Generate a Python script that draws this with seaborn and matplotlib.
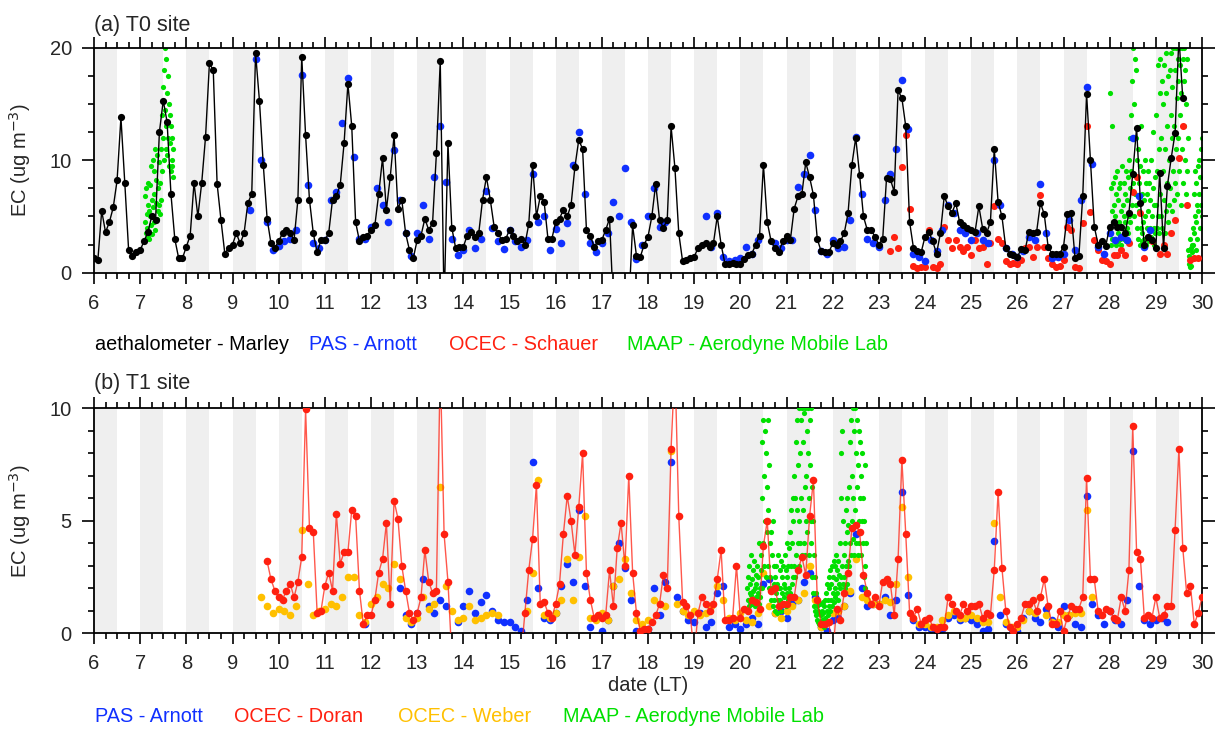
import numpy as np
import pandas as pd
import matplotlib
matplotlib.use("Agg")
import matplotlib.pyplot as plt
import seaborn as sns
from matplotlib.ticker import MultipleLocator

sns.set_theme(style="white")
plt.rcParams["font.family"] = ["Liberation Sans", "DejaVu Sans"]

nan = np.nan

# ---------------- panel (a) T0 site ----------------
# aethalometer - Marley, 2-hourly values, day 6 00h .. day 29 22h
a_aeth = [
    1.3, 1.1, 5.5, 3.6, 4.5, 5.8, 8.2, 13.8, 8.0, 2.0, 1.5, 1.8,
    2.0, 2.8, 3.6, 5.0, 4.7, 12.5, 15.3, 13.4, 7.0, 3.0, 1.3, 1.3,
    2.3, 3.3, 8.0, 5.0, 8.0, 12.1, 18.6, 18.0, 7.9, 4.7, 1.7, 2.2,
    2.5, 3.5, 2.6, 3.5, 6.2, 7.0, 19.5, 15.3, 9.6, 4.8, 2.6, 2.2,
    2.8, 3.5, 3.8, 3.5, 2.9, 6.5, 19.2, 12.2, 6.5, 3.5, 1.8, 2.9,
    2.9, 3.5, 6.5, 6.8, 7.8, 11.5, 16.8, 13.0, 4.5, 2.8, 3.2, 3.3,
    3.8, 4.2, 7.0, 10.2, 5.6, 8.5, 12.2, 5.7, 6.5, 3.5, 2.0, 1.3,
    2.9, 3.3, 4.8, 3.8, 4.4, 10.6, 18.8, -3.0, 11.5, 4.0, 2.2, 2.3,
    2.3, 3.3, 3.6, 3.2, 3.5, 6.5, 8.5, 6.5, 4.1, 3.5, 2.9, 3.0,
    3.8, 3.3, 2.8, 3.0, 2.5, 4.3, 9.6, 5.0, 6.8, 6.3, 3.0, 3.0,
    4.5, 4.8, 5.6, 5.0, 6.0, 9.4, 11.8, 11.0, 3.8, 3.3, 2.3, 2.8,
    2.9, 3.8, 4.8, -3.0, nan, nan, nan, -3.0, 4.2, 1.5, 1.4, 2.5,
    3.2, 5.0, 7.9, 4.7, 4.0, 4.7, 13.0, 9.3, 3.5, 1.0, 1.1, 1.3,
    1.4, 2.2, 2.5, 2.6, 2.3, 2.6, 5.0, 2.5, 0.8, 0.8, 0.9, 0.8,
    0.8, 1.2, 1.6, 1.7, 2.5, 3.3, 9.6, 4.5, 2.8, 2.2, 1.8, 2.8,
    3.3, 2.9, 5.7, 6.8, 7.0, 9.8, 8.5, 6.9, 3.0, 1.9, 1.8, 1.8,
    2.6, 2.5, 2.8, 3.5, 5.3, 9.6, 12.0, 8.7, 5.0, 3.8, 3.8, 3.2,
    2.5, 3.0, 8.4, 8.3, 7.2, 16.2, 15.5, 13.0, 4.5, 2.2, 1.9, 1.8,
    3.2, 3.6, 2.8, 1.7, 3.5, 6.8, 5.9, 5.3, 6.2, 4.5, 4.2, 4.0,
    3.8, 3.6, 5.9, 3.9, 3.5, 4.5, 11.0, 6.3, 5.0, 2.2, 1.7, 1.6,
    1.4, 2.1, 2.0, 3.6, 3.5, 3.6, 6.2, 5.2, 2.3, 1.7, 1.7, 1.7,
    2.3, 5.2, 5.3, 1.3, 1.5, 6.8, 15.9, 10.0, 4.1, 2.5, 2.8, 2.4,
    4.1, 4.5, 4.1, 4.1, 3.5, 5.3, 8.8, 12.9, 6.2, 2.5, 3.2, 2.9,
    2.2, 8.9, 2.2, 7.7, 10.2, 12.4, 21.0, 15.5, nan, nan, nan, nan,
]
a_aeth_start, a_aeth_perday = 6.0, 12

# PAS - Arnott, 3-hourly values, day 9 00h .. day 28 21h
a_pas = [
    nan, nan, nan, 5.6, 19.0, 10.0, 4.5, 2.0,
    2.4, 2.8, 3.0, 3.8, 17.6, 7.8, 2.6, 2.2,
    2.9, 6.5, 7.2, 13.3, 17.3, 10.3, 3.0, 3.0,
    4.1, 7.5, 6.0, 4.5, 10.9, 6.5, 3.5, 1.5,
    3.5, 6.0, 3.0, 8.5, 13.0, 8.1, 3.0, 1.6,
    2.0, 3.8, 2.2, 3.0, 7.3, 4.0, 2.8, 2.1,
    3.8, 2.8, 2.3, 2.9, 8.8, 4.5, 5.0, 2.0,
    3.9, 2.6, 4.4, 9.6, 12.5, 7.0, 2.6, 1.8,
    2.6, 3.5, 6.3, 5.0, 9.3, 4.5, 1.2, 2.5,
    5.0, 7.5, 4.1, 4.5, nan, nan, nan, nan,
    nan, nan, 5.0, 2.3, 5.3, 1.4, 1.0, 1.1,
    1.3, 2.3, 1.7, 2.9, nan, nan, 2.6, 2.2,
    2.9, 2.9, 7.6, 8.8, 10.5, 5.6, 1.9, 1.7,
    2.9, 2.2, 2.3, 4.7, 12.1, 7.0, 3.0, 2.6,
    2.3, 6.5, 8.8, 11.0, 17.1, 12.8, 1.7, 1.4,
    1.0, 2.9, 1.9, 3.8, 6.0, 5.3, 3.8, 3.5,
    2.9, 3.5, 2.9, 2.6, 10.0, 6.0, 2.2, 1.7,
    1.4, 1.9, 3.2, 2.9, 7.9, 3.5, 1.3, 1.4,
    1.7, 4.7, 2.0, 6.5, 16.5, 9.7, 2.3, 1.7,
    3.5, 2.9, 3.2, 2.9, 12.0, 6.8, 2.3, 3.8,
]
a_pas_start, a_pas_perday = 9.0, 8

# OCEC - Schauer, 2-hourly values, day 23 00h .. day 29 22h
a_ocec = [
    nan, nan, nan, 1.9, 3.2, 2.2, 9.4, 12.2, 5.7, 0.6, 0.4, 0.5,
    0.5, 3.8, 0.5, 0.4, 0.8, 4.1, 2.9, 2.2, 2.9, 2.3, 1.9, 2.3,
    1.6, 2.9, 2.2, 2.3, 0.8, 2.6, 5.9, 3.0, 2.6, 1.0, 0.8, 0.9,
    0.8, 1.1, 2.2, 2.3, 1.4, 2.3, 6.9, 2.3, 1.3, 0.8, 0.5, 0.6,
    1.1, 4.1, 3.8, 0.5, 0.4, 4.4, 13.0, 5.4, 2.9, 2.0, 1.1, 1.0,
    0.8, 1.6, 1.6, 2.0, 1.6, 2.6, 7.2, 8.5, 5.3, 1.3, 3.2, 2.8,
    nan, 1.7, 2.5, 1.7, 3.5, 4.7, 10.2, 13.0, 6.0, 1.1, 1.3, 1.3,
]
a_ocec_start, a_ocec_perday = 23.0, 12

# MAAP - Aerodyne Mobile Lab, values every 0.01 day
a_maap1_start = 7.10
a_maap1 = [
    4.5, 6.8, 3.5, 7.5, 5.2, 4.0, 8.0, 3.2, 6.0, 5.5,
    3.0, 7.8, 5.0, 9.5, 4.2, 6.5, 3.4, 10.0, 5.8, 7.0,
    4.5, 9.0, 3.8, 11.0, 6.2, 8.2, 4.8, 10.5, 5.5, 7.5,
    6.0, 9.8, 5.2, 12.5, 8.0, 11.0, 6.5, 14.0, 9.0, 16.5,
    12.0, 18.0, 10.0, 20.0, 14.5, 11.0, 19.0, 13.0, 16.0, 10.5,
    17.5, 12.0, 15.0, 9.5, 14.0, 11.5, 13.0, 9.0, 12.0, 10.0,
    9.5, 11.0, 8.5,
]
a_maap2_start = 28.00
a_maap2 = [
    16.0, 4.0, 7.5, 2.5, 13.0, 5.5, 3.0, 8.0, 4.5, 6.0,
    3.0, 8.5, 5.0, 2.5, 7.0, 4.0, 9.0, 3.5, 6.5, 2.8,
    7.5, 4.5, 3.0, 8.0, 5.5, 2.5, 9.5, 4.0, 6.0, 3.2,
    8.0, 5.0, 3.0, 7.0, 4.5, 9.0, 2.8, 6.5, 4.0, 8.5,
    3.5, 10.0, 5.0, 7.5, 12.0, 4.5, 9.0, 14.0, 6.0, 17.0,
    8.0, 20.0, 5.0, 15.0, 19.0, 7.0, 12.0, 18.0, 6.0, 10.0,
    4.0, 11.0, 3.0, 8.0, 5.5, 2.5, 9.5, 4.0, 13.0, 3.5,
    7.0, 2.8, 9.0, 4.5, 6.5, 3.0, 10.0, 5.0, 2.5, 8.0,
    4.0, 7.0, 3.0, 9.0, 5.5, 2.8, 8.0, 4.0, 6.5, 3.2,
    10.0, 5.0, 3.0, 7.5, 12.5, 4.0, 6.0, 2.5, 8.5, 3.5,
    6.0, 14.0, 4.0, 9.0, 18.5, 5.0, 11.0, 3.5, 16.0, 7.0,
    19.0, 5.0, 12.0, 17.0, 4.0, 9.0, 15.0, 6.5, 18.5, 3.5,
    11.0, 16.0, 5.5, 19.5, 8.0, 13.0, 4.5, 17.5, 10.0, 6.0,
    18.0, 7.5, 14.0, 19.5, 5.5, 12.0, 16.5, 9.0, 20.0, 6.5,
    13.0, 18.0, 8.0, 20.0, 11.0, 15.5, 7.0, 19.0, 12.0, 17.0,
    9.0, 20.0, 14.0, 18.5, 6.0, 16.0, 20.0, 11.0, 19.0, 8.0,
    17.0, 13.0, 20.0, 10.0, 18.0, 7.0, 15.0, 19.0, 9.0, 12.0,
    2.0, 0.8, 1.5, 0.5, 3.0, 1.0, 2.2, 0.6, 1.8, 2.5,
    4.0, 2.5, 7.0, 3.5, 9.0, 5.0, 2.0, 8.0, 4.5, 6.0,
    3.0, 9.5, 5.5, 7.0, 10.0, 4.0, 8.5, 6.0, 11.0, 12.0,
    5.0,
]

# ---------------- panel (b) T1 site ----------------
# OCEC - Doran, 2-hourly values, day 9 00h .. day 30 00h
b_doran = [
    nan, nan, nan, nan, nan, nan, nan, nan, nan, 3.2, 2.4, 1.9,
    1.6, 1.5, 1.9, 2.2, 1.6, 2.3, 3.4, 9.95, 4.7, 4.5, 0.9, 1.0,
    2.1, 2.7, 1.9, 5.3, 3.1, 3.6, 3.6, 5.5, 5.2, 1.9, 0.4, 0.8,
    0.8, 1.5, 2.7, 3.3, 4.9, 1.3, 5.9, 5.1, 3.0, 1.9, 0.9, 0.6,
    0.9, 1.6, 3.7, 2.3, 1.8, 1.9, 12.0, 4.4, 2.3, -1.0, nan, nan,
    nan, nan, nan, nan, nan, nan, nan, nan, nan, nan, nan, nan,
    nan, nan, nan, -1.0, 0.9, 2.8, 4.2, 6.6, 1.3, 1.4, 0.9, 0.7,
    1.3, 2.2, 4.4, 6.1, 5.0, 3.5, 5.6, 8.0, 2.7, 1.5, 0.7, 0.8,
    0.7, 0.8, 2.8, 1.2, 3.8, 4.9, 3.0, 7.0, 2.7, 0.9, 0.1, 0.2,
    0.2, 0.5, 0.8, 1.3, 2.6, 2.0, 8.2, 12.0, 5.2, 1.4, 1.2, 0.8,
    -1.0, 0.9, 1.6, 1.3, 1.0, 1.3, 2.4, 3.7, 0.6, 0.6, 0.7, 3.0,
    0.7, 1.1, 1.0, 1.5, 1.4, 1.1, 3.9, 5.0, 1.9, 2.0, 1.2, 1.3,
    1.3, 1.6, 1.6, 2.8, 3.4, 2.6, 5.2, 6.8, 1.5, 0.4, 0.4, 0.5,
    -1.0, 1.1, 0.6, 1.8, 2.7, 4.7, 4.8, 4.5, 2.6, 1.8, 1.3, 1.6,
    1.2, 2.3, 2.4, 2.2, 0.8, 3.3, 7.7, 4.4, 0.9, 0.7, 1.1, 0.4,
    0.6, 0.7, 0.3, 0.2, 0.3, 0.3, 1.6, 1.3, 1.0, 0.8, 1.3, 1.0,
    1.2, 1.2, 1.3, 0.7, 0.9, 0.8, 2.8, 6.3, 2.9, 1.0, 0.3, 0.1,
    0.4, 0.7, 1.3, 1.3, 1.5, 1.0, 1.6, 2.4, 1.2, 0.4, 0.4, 1.0,
    0.1, 0.7, 1.2, 1.1, 1.1, 1.6, 6.9, 2.4, 2.4, 1.0, 0.8, 1.1,
    1.0, 0.7, 0.6, 1.6, 1.0, 2.8, 9.2, 3.6, 3.3, 0.7, 0.8, 0.7,
    1.6, 0.7, 0.8, 1.2, 1.2, 4.6, 8.2, 3.8, 1.8, 2.1, 0.4, 0.9,
    1.6,
]
b_doran_start, b_doran_perday = 9.0, 12

# PAS - Arnott, 3-hourly values, day 11 00h .. day 29 21h
b_pas = [
    nan, nan, nan, nan, nan, nan, nan, 0.4,
    nan, nan, nan, nan, nan, 2.0, 0.8, 0.4,
    0.9, 2.4, 1.2, 0.9, 1.5, 1.2, nan, 0.5,
    1.2, 1.9, 0.9, 1.4, 1.7, 1.0, 0.6, 0.5,
    0.5, 0.3, 0.1, 1.5, 7.6, 2.0, 0.7, 0.6,
    0.9, 2.1, 3.1, 2.3, 5.5, 2.1, 0.3, 0.7,
    0.1, 0.6, 2.1, 4.0, 2.9, 1.5, 0.1, 0.1,
    0.2, 2.0, 0.8, 2.3, 7.6, 1.6, 1.0, 0.6,
    0.5, 0.9, 0.3, 0.5, 1.8, 2.1, 0.3, 0.4,
    0.2, 0.4, 0.7, 0.4, 2.2, 2.4, 0.9, 1.0,
    0.7, 1.3, 1.5, 2.3, 2.7, 1.6, 0.3, 0.1,
    0.6, 0.7, 1.2, 1.8, 4.4, 2.0, 1.2, 1.3,
    1.3, 1.6, 0.8, 1.5, 6.3, 1.7, 0.6, 0.3,
    0.3, 0.2, 0.1, 0.2, 0.7, 0.8, 0.6, 0.7,
    0.6, 0.4, 0.1, 0.2, 4.1, 0.8, 0.4, 0.2,
    0.1, 0.7, 1.0, 0.7, 0.5, 1.1, 0.6, 0.3,
    1.2, 0.8, 0.4, 0.3, 6.1, 1.3, 0.8, 0.4,
    1.0, 0.6, 0.4, 1.5, 8.1, 2.1, 0.6, 0.4,
    0.6, 0.7, 0.5, nan, nan, nan, nan, nan,
]
b_pas_start, b_pas_perday = 11.0, 8

# OCEC - Weber, 3-hourly values, day 9 00h .. day 27 21h
b_weber = [
    nan, nan, nan, nan, nan, 1.6, 1.2, 0.9,
    1.1, 1.0, 0.8, 1.2, 4.6, 2.2, 0.8, 1.0,
    1.1, 1.3, 1.2, 1.6, 2.5, 2.5, 0.8, 0.5,
    1.3, 1.6, 2.2, 2.0, 3.1, 2.4, 0.7, 0.5,
    0.7, 1.6, 1.1, 1.3, 6.5, 2.1, 1.0, 0.6,
    0.7, 1.2, 0.6, 0.7, 0.8, 0.9, 0.8, nan,
    nan, nan, nan, 1.0, 2.7, 6.8, 0.8, 0.7,
    0.9, 1.5, 3.3, 1.5, 3.4, 5.2, 0.7, 0.6,
    0.9, 0.6, 2.1, 2.4, 3.3, 1.8, 0.6, 0.4,
    0.6, 1.5, 1.3, 1.2, 8.1, 1.3, 1.0, 0.8,
    1.0, 0.8, 0.9, 1.2, 2.1, 1.5, 0.7, 0.6,
    0.9, 0.6, 0.5, 0.9, 2.7, 1.2, 0.9, 0.7,
    1.0, 1.2, 1.5, 1.8, 3.0, 1.5, 0.3, 0.5,
    0.9, 1.0, 1.2, 1.9, 3.3, 1.6, 1.5, 1.3,
    1.3, 1.5, 1.4, 2.2, 5.6, 2.5, 0.7, 0.4,
    0.4, 0.3, 0.3, 0.6, 0.8, 1.0, 0.7, 0.7,
    0.8, 0.7, 0.5, 0.5, 4.9, 1.6, 0.5, 0.3,
    0.3, 0.6, 1.0, 0.9, 1.6, 0.8, 0.5, 0.5,
    0.8, 0.8, 0.9, 0.9, 5.5, 1.6, nan, nan,
]
b_weber_start, b_weber_perday = 9.0, 8

# MAAP - Aerodyne Mobile Lab, values every 0.01 day from day 20.15
b_maap_start = 20.15
b_maap = [
    2.0, 1.5, 2.5, 1.2, 3.0, 1.8, 2.2, 1.4, 3.5, 1.7,
    2.4, 1.3, 2.8, 1.9, 1.5, 3.2, 2.0, 1.2, 2.6, 1.6,
    2.2, 1.4, 3.0, 1.8, 2.5, 1.3, 4.0, 2.0, 1.6, 2.8,
    3.5, 6.0, 2.0, 8.5, 4.0, 9.5, 3.0, 7.0, 5.0, 9.0,
    2.5, 8.0, 4.5, 6.5, 3.0, 9.5, 5.5, 2.0, 7.5, 4.0,
    2.5, 4.5, 1.5, 3.5, 2.0, 5.0, 1.2, 3.0, 2.2, 1.5,
    2.5, 1.0, 3.0, 1.8, 2.2, 0.9, 3.5, 1.5, 2.0, 1.2,
    2.8, 1.5, 2.0, 3.2, 1.0, 2.5, 1.8, 3.0, 1.3, 2.2,
    1.6, 3.5, 2.0, 1.2, 2.8, 4.0, 1.8, 2.5, 3.0, 1.5,
    3.8, 2.0, 4.5, 1.8, 3.0, 5.5, 2.2, 4.0, 6.0, 2.5,
    5.0, 3.0, 7.0, 2.5, 6.0, 8.5, 3.5, 5.5, 9.5, 4.0,
    7.5, 3.0, 10.0, 5.0, 8.0, 4.0, 9.5, 6.0, 3.5, 10.0,
    5.5, 8.5, 4.0, 9.8, 6.5, 3.5, 10.0, 7.0, 5.0, 9.0,
    4.5, 8.0, 10.0, 6.0, 3.5, 9.5, 7.5, 5.0, 10.0, 4.0,
    6.5, 2.5, 5.0, 1.8, 3.5, 1.2, 2.5, 1.0, 1.8, 0.8,
    1.5, 0.6, 1.2, 0.5, 1.0, 0.4, 0.9, 1.3, 0.5, 0.8,
    0.4, 1.0, 0.6, 1.4, 0.5, 0.9, 0.3, 1.2, 0.7, 1.5,
    0.6, 1.8, 1.0, 2.2, 0.8, 1.5, 2.5, 1.2, 2.0, 1.0,
    2.8, 1.5, 2.2, 3.0, 1.2, 2.5, 1.8, 3.2, 1.4, 2.0,
    3.0, 1.6, 2.4, 3.5, 1.8, 2.8, 1.5, 3.2, 2.2, 2.6,
    4.0, 2.0, 6.0, 2.5, 8.0, 3.0, 9.0, 2.2, 5.0, 3.5,
    2.5, 4.0, 2.0, 5.5, 3.0, 4.5, 2.2, 6.0, 3.2, 4.8,
    3.0, 6.5, 4.0, 8.5, 3.5, 9.5, 5.0, 7.0, 4.2, 10.0,
    6.0, 3.5, 9.0, 5.5, 10.0, 4.0, 8.0, 6.5, 9.5, 3.5,
    7.5, 5.0, 9.0, 4.0, 8.5, 6.0, 3.5, 7.0, 5.0, 8.0,
    4.0, 6.0, 2.5, 5.0, 3.0, 7.5, 2.0, 4.0,
]

x_ticks = list(range(6, 31))

# colours
C_BLACK = "#000000"
C_BLUE = "#1030ff"
C_RED = "#ff2010"
C_ORANGE = "#ffc000"
C_GREEN = "#00e000"


def series(start, perday, vals):
    v = np.asarray(vals, dtype=float)
    t = start + np.arange(len(v)) / perday
    return pd.DataFrame({"t": t, "v": v})


def segmented(df):
    d = df.copy()
    d["seg"] = np.cumsum(d["v"].isna().to_numpy())
    return d.dropna()


fig = plt.figure(figsize=(12.25, 7.4), dpi=100)
W, H = 1225.0, 740.0
ax_a = fig.add_axes([94 / W, 1 - 272.7 / H, 1108 / W, 225 / H])
ax_b = fig.add_axes([94 / W, 1 - 633.3 / H, 1108 / W, 225 / H])

for ax in (ax_a, ax_b):
    for d in range(6, 30):
        ax.axvspan(d, d + 0.5, color="#efefef", lw=0, zorder=0)

# ---- panel a ----
df = series(a_maap1_start, 100, a_maap1)
sns.scatterplot(data=df.dropna(), x="t", y="v", color=C_GREEN, s=14, linewidth=0, ax=ax_a, zorder=2)
df = series(a_maap2_start, 100, a_maap2)
sns.scatterplot(data=df.dropna(), x="t", y="v", color=C_GREEN, s=14, linewidth=0, ax=ax_a, zorder=2)
df = series(a_ocec_start, a_ocec_perday, a_ocec)
sns.scatterplot(data=df.dropna(), x="t", y="v", color=C_RED, s=26, linewidth=0, ax=ax_a, zorder=3)
df = series(a_pas_start, a_pas_perday, a_pas)
sns.scatterplot(data=df.dropna(), x="t", y="v", color=C_BLUE, s=30, linewidth=0, ax=ax_a, zorder=4)
df = segmented(series(a_aeth_start, a_aeth_perday, a_aeth))
sns.lineplot(data=df, x="t", y="v", units="seg", estimator=None, sort=False,
             color=C_BLACK, lw=1.0, marker="o", markersize=5.2, markeredgewidth=0,
             ax=ax_a, zorder=5)

# ---- panel b ----
df = series(b_pas_start, b_pas_perday, b_pas)
sns.scatterplot(data=df.dropna(), x="t", y="v", color=C_BLUE, s=30, linewidth=0, ax=ax_b, zorder=2)
df = series(b_weber_start, b_weber_perday, b_weber)
sns.scatterplot(data=df.dropna(), x="t", y="v", color=C_ORANGE, s=30, linewidth=0, ax=ax_b, zorder=3)
df = series(b_maap_start, 100, b_maap)
sns.scatterplot(data=df.dropna(), x="t", y="v", color=C_GREEN, s=14, linewidth=0, ax=ax_b, zorder=4)
df = segmented(series(b_doran_start, b_doran_perday, b_doran))
sns.lineplot(data=df, x="t", y="v", units="seg", estimator=None, sort=False,
             color=C_RED, lw=1.0, alpha=0.75, ax=ax_b, zorder=5)
sns.scatterplot(data=df, x="t", y="v", color=C_RED, s=30, linewidth=0, ax=ax_b, zorder=6)

# ---- axes styling ----
for ax, ymax, ymaj, ymin in ((ax_a, 20, 10, 2.5), (ax_b, 10, 5, 1)):
    ax.set_xlim(6, 30)
    ax.set_ylim(0, ymax)
    ax.set_xticks(x_ticks)
    ax.set_xticklabels([str(x) for x in x_ticks])
    ax.xaxis.set_minor_locator(MultipleLocator(0.25))
    ax.yaxis.set_major_locator(MultipleLocator(ymaj))
    ax.yaxis.set_minor_locator(MultipleLocator(ymin))
    ax.tick_params(which="both", direction="out", top=True, right=True,
                   bottom=True, left=True, labeltop=False, labelright=False,
                   color="black", width=1.2)
    ax.tick_params(which="major", length=8, labelsize=14.5, pad=7)
    ax.tick_params(axis="y", which="major", length=9, pad=7)
    ax.tick_params(which="minor", length=4.5)
    for sp in ax.spines.values():
        sp.set_color("black")
        sp.set_linewidth(1.3)
    ax.set_ylabel("EC (ug m$^{-3}$)", fontsize=14.5)
    ax.set_xlabel("")
    ax.grid(False)
    if ax.get_legend() is not None:
        ax.get_legend().remove()

ax_a.yaxis.set_label_coords(-0.055, 0.5)
ax_b.yaxis.set_label_coords(-0.055, 0.5)
ax_b.set_xlabel("date (LT)", fontsize=14.5, labelpad=2)

fig.text(94 / W, 1 - 25 / H, "(a) T0 site", fontsize=15.5, ha="left", va="center")
fig.text(94 / W, 1 - 384 / H, "(b) T1 site", fontsize=15.5, ha="left", va="center")

leg_a = [("aethalometer - Marley", 95, C_BLACK), ("PAS - Arnott", 309, C_BLUE),
         ("OCEC - Schauer", 449, C_RED), ("MAAP - Aerodyne Mobile Lab", 627, C_GREEN)]
for txt, x, c in leg_a:
    fig.text(x / W, 1 - 345 / H, txt, color=c, fontsize=14.3, ha="left", va="center")
leg_b = [("PAS - Arnott", 95, C_BLUE), ("OCEC - Doran", 234, C_RED),
         ("OCEC - Weber", 398, C_ORANGE), ("MAAP - Aerodyne Mobile Lab", 563, C_GREEN)]
for txt, x, c in leg_b:
    fig.text(x / W, 1 - 717 / H, txt, color=c, fontsize=14.3, ha="left", va="center")

fig.savefig("out.png", dpi=100)
